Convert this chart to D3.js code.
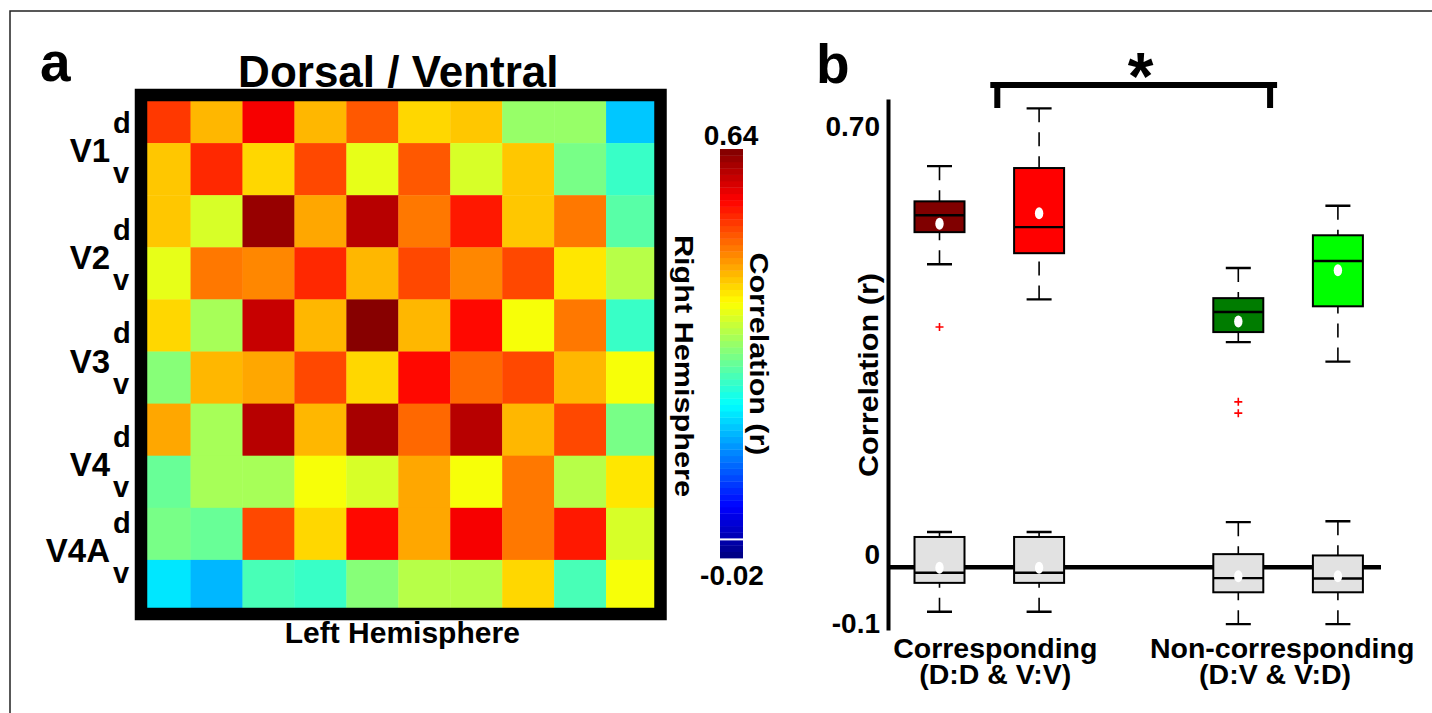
<!DOCTYPE html>
<html>
<head>
<meta charset="utf-8">
<script src="https://cdn.jsdelivr.net/npm/d3@7"></script>
<style>
  body { margin: 0; background: #fff; }
  svg { display: block; font-family: "Liberation Sans", Arial, Helvetica, sans-serif; font-weight: bold; }
</style>
</head>
<body>
<script>
// ---- panel a data: correlation between left (columns) and right (rows) hemisphere ROIs
const regions = ["V1", "V2", "V3", "V4", "V4A"];
const subdivisions = ["d", "v"];
const colorRange = [-0.02, 0.64];
const colorbarMark = 0.01;
const corrMatrix = [
  [0.52, 0.44, 0.56, 0.44, 0.50, 0.42, 0.43, 0.33, 0.33, 0.19],
  [0.43, 0.53, 0.42, 0.51, 0.38, 0.50, 0.37, 0.43, 0.30, 0.26],
  [0.43, 0.37, 0.62, 0.45, 0.60, 0.475, 0.54, 0.43, 0.475, 0.28],
  [0.38, 0.475, 0.467, 0.53, 0.436, 0.516, 0.467, 0.506, 0.405, 0.35],
  [0.42, 0.34, 0.59, 0.436, 0.63, 0.444, 0.557, 0.392, 0.485, 0.26],
  [0.31, 0.44, 0.449, 0.506, 0.416, 0.548, 0.495, 0.506, 0.436, 0.383],
  [0.449, 0.331, 0.599, 0.444, 0.619, 0.488, 0.599, 0.436, 0.516, 0.30],
  [0.29, 0.34, 0.331, 0.392, 0.362, 0.454, 0.392, 0.475, 0.351, 0.408],
  [0.30, 0.29, 0.516, 0.416, 0.548, 0.449, 0.567, 0.485, 0.537, 0.362],
  [0.208, 0.186, 0.279, 0.259, 0.31, 0.341, 0.341, 0.416, 0.279, 0.392]
];

// ---- panel b data: box plots, observed (coloured) and null (grey)
const boxGroups = ["Corresponding", "Non-corresponding"];
const groupSubtitles = ["(D:D & V:V)", "(D:V & V:D)"];
const boxLabels = ["D:D", "V:V", "D:V", "V:D"];
const boxGroupOf = ["Corresponding", "Corresponding", "Non-corresponding", "Non-corresponding"];

const obsHigh   = [0.638, 0.730, 0.476, 0.575];
const obsQ3     = [0.582, 0.635, 0.428, 0.528];
const obsMedian = [0.560, 0.541, 0.406, 0.487];
const obsMean   = [0.5465, 0.563, 0.391, 0.4725];
const obsQ1     = [0.533, 0.4995, 0.374, 0.415];
const obsLow    = [0.482, 0.426, 0.358, 0.327];
const obsOutliers = [[0.382], [], [0.263, 0.245], []];

const nullHigh   = [0.056, 0.056, 0.0716, 0.073];
const nullQ3     = [0.048, 0.048, 0.0207, 0.0186];
const nullMedian = [-0.009, -0.009, -0.0175, -0.018];
const nullMean   = [-0.001, -0.001, -0.0143, -0.0143];
const nullQ1     = [-0.025, -0.025, -0.040, -0.040];
const nullLow    = [-0.071, -0.071, -0.0907, -0.0907];
const nullOutliers = [[], [], [], []];

const yTicks = [-0.1, 0, 0.7];
const yTickLabels = ["-0.1", "0", "0.70"];

// ---- styles
const boxFills = ["#800000", "#ff0000", "#007c00", "#00ff00"];
const nullFill = "#e2e2e2";
const labelNudge = [0, 3, 2, 1, -17];
const tickNudge = {"-0.1": -6, "0": -13, "0.7": -1};
const catNudge = [6, -6], subNudge = [6, -13];

const width = 1432, height = 713;
const svg = d3.select("body").append("svg")
    .attr("width", width)
    .attr("height", height);

// outer frame (top and left edges only visible)
svg.append("path")
   .attr("d", `M10,${height}V11H${width}`)
   .attr("fill", "none")
   .attr("stroke", "#222")
   .attr("stroke-width", 1.5);

// ================= panel a =================
const nCells = corrMatrix.length;
const xCell = d3.scaleBand().domain(d3.range(nCells)).range([138.6, 658]);
const yCell = d3.scaleBand().domain(d3.range(nCells)).range([91, 612]);

const jet = t => {
  const c = v => Math.max(0, Math.min(1, v));
  return d3.rgb(255 * c(1.5 - Math.abs(4 * t - 3)),
                255 * c(1.5 - Math.abs(4 * t - 2)),
                255 * c(1.5 - Math.abs(4 * t - 1)));
};
const nLevels = 64;
const tScale = d3.scaleLinear().domain(colorRange).range([0, 1]).clamp(true);
const levelOf = v => Math.min(nLevels - 1, Math.floor(tScale(v) * nLevels));
const colorOf = v => jet((levelOf(v) + 0.5) / nLevels);

svg.append("g")
   .selectAll("rect")
   .data(corrMatrix.flatMap((row, i) => row.map((v, j) => ({i, j, v}))))
   .join("rect")
   .attr("x", d => xCell(d.j))
   .attr("y", d => yCell(d.i))
   .attr("width", xCell.bandwidth() + 0.4)
   .attr("height", yCell.bandwidth() + 0.4)
   .attr("fill", d => colorOf(d.v));

// thick black axes box
svg.append("rect")
   .attr("x", 141).attr("y", 95)
   .attr("width", 519.5).attr("height", 519)
   .attr("fill", "none")
   .attr("stroke", "#000")
   .attr("stroke-width", 12.5);

const hmCenter = (xCell.range()[0] + xCell.range()[1]) / 2;

svg.append("text")
   .attr("x", hmCenter).attr("y", 87)
   .attr("text-anchor", "middle")
   .attr("font-size", 44)
   .text("Dorsal / Ventral");

svg.append("text")
   .attr("x", hmCenter + 4).attr("y", 643)
   .attr("text-anchor", "middle")
   .attr("font-size", 30)
   .text("Left Hemisphere");

svg.append("text")
   .attr("x", 40).attr("y", 81)
   .attr("font-size", 55)
   .text("a");

// row labels: V1 with d superscript / v subscript
const rowLabels = svg.append("g");
regions.forEach((r, k) => {
  const top = yCell(2 * k), bot = yCell(2 * k + 1), bw = yCell.bandwidth();
  rowLabels.append("text")
     .attr("x", 110).attr("y", bot + 19 + labelNudge[k])
     .attr("text-anchor", "end")
     .attr("font-size", 33)
     .text(r);
  rowLabels.append("text")
     .attr("x", 113).attr("y", top + bw / 2 + 16 + labelNudge[k])
     .attr("font-size", 29)
     .text(subdivisions[0]);
  rowLabels.append("text")
     .attr("x", 113).attr("y", bot + bw / 2 + 14 + labelNudge[k])
     .attr("font-size", 29)
     .text(subdivisions[1]);
});

svg.append("text")
   .attr("transform", "translate(675,366) rotate(90)")
   .attr("text-anchor", "middle")
   .attr("font-size", 25)
   .attr("textLength", 262)
   .attr("lengthAdjust", "spacingAndGlyphs")
   .text("Right Hemisphere");

// colorbar
const cbY = d3.scaleLinear().domain(colorRange).range([558, 149]);
const cbStep = (colorRange[1] - colorRange[0]) / nLevels;
svg.append("g")
   .selectAll("rect")
   .data(d3.range(nLevels))
   .join("rect")
   .attr("x", 720)
   .attr("width", 23)
   .attr("y", i => cbY(colorRange[0] + (i + 1) * cbStep))
   .attr("height", i => cbY(colorRange[0] + i * cbStep) - cbY(colorRange[0] + (i + 1) * cbStep) + 0.4)
   .attr("fill", i => jet((i + 0.5) / nLevels));

svg.append("line")
   .attr("x1", 720).attr("x2", 743)
   .attr("y1", cbY(colorbarMark)).attr("y2", cbY(colorbarMark))
   .attr("stroke", "#fff")
   .attr("stroke-width", 2);

svg.append("text")
   .attr("x", 731).attr("y", 145)
   .attr("text-anchor", "middle")
   .attr("font-size", 28)
   .text(colorRange[1].toFixed(2));

svg.append("text")
   .attr("x", 732).attr("y", 585)
   .attr("text-anchor", "middle")
   .attr("font-size", 28)
   .text(colorRange[0].toFixed(2));

svg.append("text")
   .attr("transform", "translate(750,354) rotate(90)")
   .attr("text-anchor", "middle")
   .attr("font-size", 25)
   .attr("textLength", 203)
   .attr("lengthAdjust", "spacingAndGlyphs")
   .text("Correlation (r)");

// ================= panel b =================
const axisX = 888;
const yB = d3.scaleLinear().domain([-0.1, 0.745]).range([630, 98.9]);
const xGroup = d3.scaleBand().domain(boxGroups).range([839.9, 1437.5]);
const xInner = d3.scaleBand().domain([0, 1]).range([0, xGroup.bandwidth()]).paddingOuter(0.5);
const slotOf = boxLabels.map((b, i) => boxGroupOf.slice(0, i).filter(g => g === boxGroupOf[i]).length);
const boxCenter = i => xGroup(boxGroupOf[i]) + xInner(slotOf[i]) + xInner.bandwidth() / 2;
const groupCenter = g => xGroup(g) + xGroup.bandwidth() / 2;
const boxHalf = 25, capHalf = 12.5;

// zero reference line
svg.append("line")
   .attr("x1", axisX).attr("x2", 1381)
   .attr("y1", yB(0)).attr("y2", yB(0))
   .attr("stroke", "#000")
   .attr("stroke-width", 4.5);

const makeBoxes = (lo, q1, med, q3, hi, mean, outl, fillOf) =>
  boxLabels.map((b, i) => ({
    cx: boxCenter(i), lo: lo[i], q1: q1[i], med: med[i], q3: q3[i], hi: hi[i],
    mean: mean[i], outliers: outl[i], fill: fillOf(i)
  }));

const boxes = makeBoxes(obsLow, obsQ1, obsMedian, obsQ3, obsHigh, obsMean, obsOutliers, i => boxFills[i])
  .concat(makeBoxes(nullLow, nullQ1, nullMedian, nullQ3, nullHigh, nullMean, nullOutliers, () => nullFill));

const bg = svg.append("g").selectAll("g").data(boxes).join("g");

// whiskers (dashed, drawn from cap toward box)
bg.append("path")
  .attr("d", d => `M${d.cx},${yB(d.hi)}V${yB(d.q3)}M${d.cx},${yB(d.lo)}V${yB(d.q1)}`)
  .attr("stroke", "#000")
  .attr("stroke-width", 1.6)
  .attr("stroke-dasharray", "14,10")
  .attr("fill", "none");

bg.append("path")
  .attr("d", d => `M${d.cx - capHalf},${yB(d.hi)}H${d.cx + capHalf}M${d.cx - capHalf},${yB(d.lo)}H${d.cx + capHalf}`)
  .attr("stroke", "#000")
  .attr("stroke-width", 2.4);

bg.append("rect")
  .attr("x", d => d.cx - boxHalf)
  .attr("width", boxHalf * 2)
  .attr("y", d => yB(d.q3))
  .attr("height", d => yB(d.q1) - yB(d.q3))
  .attr("fill", d => d.fill)
  .attr("stroke", "#000")
  .attr("stroke-width", 2);

bg.append("line")
  .attr("x1", d => d.cx - boxHalf).attr("x2", d => d.cx + boxHalf)
  .attr("y1", d => yB(d.med)).attr("y2", d => yB(d.med))
  .attr("stroke", "#000")
  .attr("stroke-width", 2.4);

bg.append("ellipse")
  .attr("cx", d => d.cx)
  .attr("cy", d => yB(d.mean))
  .attr("rx", 4.2).attr("ry", 6)
  .attr("fill", "#fff");

bg.selectAll(".outlier")
  .data(d => d.outliers.map(v => ({cx: d.cx, v})))
  .join("path")
  .attr("class", "outlier")
  .attr("d", o => `M${o.cx - 4},${yB(o.v)}H${o.cx + 4}M${o.cx},${yB(o.v) - 4}V${yB(o.v) + 4}`)
  .attr("stroke", "#ff0000")
  .attr("stroke-width", 1.6);

// y axis
const yAxis = svg.append("g")
   .attr("transform", `translate(${axisX},0)`)
   .call(d3.axisLeft(yB)
      .tickValues(yTicks)
      .tickFormat((d, i) => yTickLabels[i])
      .tickSize(0)
      .tickSizeOuter(0)
      .tickPadding(8));
yAxis.attr("font-family", null).attr("font-size", 28);
yAxis.select(".domain").attr("stroke-width", 4);
yAxis.selectAll(".tick text").attr("y", d => tickNudge[String(d)] || 0);

svg.append("text")
   .attr("transform", "translate(878,375) rotate(-90)")
   .attr("text-anchor", "middle")
   .attr("font-size", 27)
   .attr("textLength", 204)
   .attr("lengthAdjust", "spacingAndGlyphs")
   .text("Correlation (r)");

// category labels
const catLabels = svg.append("g").attr("text-anchor", "middle").attr("font-size", 28.5);
boxGroups.forEach((g, k) => {
  catLabels.append("text").attr("x", groupCenter(g) + catNudge[k]).attr("y", 658).text(g);
  catLabels.append("text").attr("x", groupCenter(g) + subNudge[k]).attr("y", 684).text(groupSubtitles[k]);
});

// significance bracket
const brL = groupCenter(boxGroups[0]) + 8, brR = groupCenter(boxGroups[1]) - 18, brY = 85;
svg.append("path")
   .attr("d", `M${brL - 7},${brY}H${brR + 7}M${brL},${brY}V108M${brR},${brY}V108`)
   .attr("fill", "none")
   .attr("stroke", "#000")
   .attr("stroke-width", 6);

svg.append("text")
   .attr("x", (brL + brR) / 2 + 7).attr("y", 99)
   .attr("text-anchor", "middle")
   .attr("font-size", 66)
   .text("*");

svg.append("text")
   .attr("x", 816).attr("y", 83)
   .attr("font-size", 55)
   .text("b");
</script>
</body>
</html>
